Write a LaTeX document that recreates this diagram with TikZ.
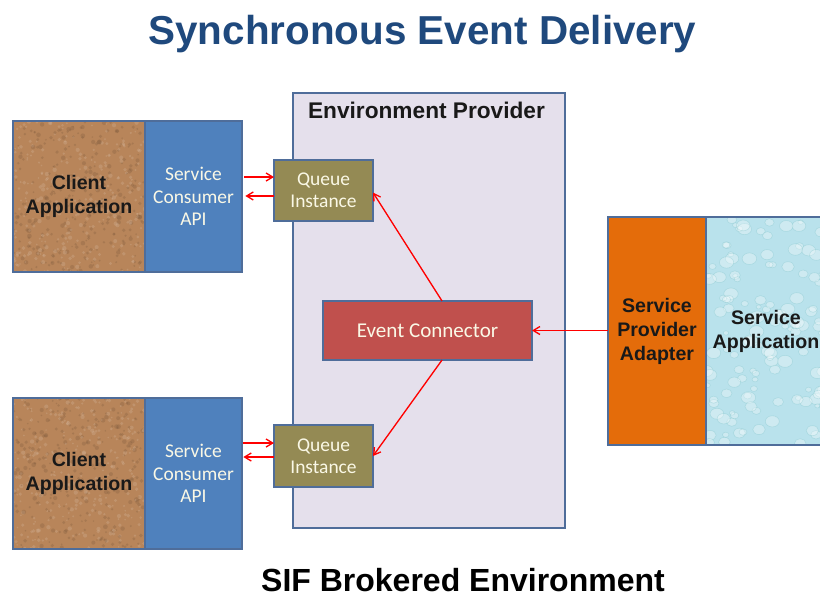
\documentclass[tikz,border=0pt]{standalone}
\usepackage{fontspec}
\setmainfont{Liberation Sans}
\newfontfamily\calib{Carlito}
\usetikzlibrary{arrows.meta,calc}
\definecolor{titleblue}{RGB}{31,73,125}
\definecolor{envfill}{RGB}{229,224,236}
\definecolor{edgeblue}{RGB}{79,109,154}
\definecolor{clientbrown}{RGB}{184,133,90}
\definecolor{apiblue}{RGB}{79,129,189}
\definecolor{queueolive}{RGB}{148,138,84}
\definecolor{ecred}{RGB}{192,80,77}
\definecolor{spaorange}{RGB}{228,108,10}
\definecolor{sappcyan}{RGB}{185,226,236}
\definecolor{lighttext}{RGB}{250,248,230}
% textures, spread over the node: #1 w, #2 h (px)
\newcommand{\corkspeck}[2]{%
  \foreach \k in {1,...,300}{%
    \fill[clientbrown!70!black, opacity=0.3] ($(path picture bounding box.center)+({#1*(rnd-0.5)},{#2*(rnd-0.5)})$) circle ({0.8+1.6*rnd});
    \fill[clientbrown!60!white, opacity=0.3] ($(path picture bounding box.center)+({#1*(rnd-0.5)},{#2*(rnd-0.5)})$) circle ({0.8+1.4*rnd});
  }}
\newcommand{\dropspeck}[2]{%
  \foreach \k in {1,...,130}{%
    \pgfmathsetmacro{\rx}{2.5+5*rnd}
    \filldraw[fill=white, fill opacity=0.3, draw=sappcyan!65!teal, draw opacity=0.35, line width=0.4pt]
      ($(path picture bounding box.center)+({#1*(rnd-0.5)},{#2*(rnd-0.5)})$) ellipse ({\rx} and {\rx*0.8});
  }}
\begin{document}
\begin{tikzpicture}[x=0.75pt,y=-0.75pt,
  box/.style={draw=edgeblue, line width=0.9pt, inner sep=0pt, outer sep=0pt, align=center},
  boldtxt/.style={font=\fontsize{14.7}{18}\selectfont\bfseries, text=black!90},
  lighttxt/.style={font=\calib\fontsize{14.6}{16.7}\selectfont, text=lighttext},
  arr/.style={red, line width=1pt, -{Straight Barb[length=5pt,width=6pt]}}]
\pgfmathsetseed{7}
\useasboundingbox (0,0) rectangle (820,597);
\begin{scope}
\clip (0,0) rectangle (820,597);
% title
\node[anchor=base, font=\fontsize{30.3}{36}\selectfont\bfseries, text=titleblue] (title) at (422.5,44) {Synchronous Event Delivery};
% environment provider
\node[box, fill=envfill, minimum width=204pt, minimum height=326.25pt] (env) at (429,310.5) {};
\node[font=\fontsize{17}{20}\selectfont\bfseries, text=black!90] (envlabel) at (426.5,110) {Environment Provider};
% clients
\node[box, boldtxt, fill=clientbrown, minimum width=99pt, minimum height=113.25pt,
      path picture={\corkspeck{132}{151}}] (clientA) at (79,196.5) {Client\\Application};
\node[box, lighttxt, fill=apiblue, minimum width=72.75pt, minimum height=113.25pt] (apiA) at (193.5,196.5) {Service\\Consumer\\API};
\node[box, boldtxt, fill=clientbrown, minimum width=99pt, minimum height=113.25pt,
      path picture={\corkspeck{132}{151}}] (clientB) at (79,473.5) {Client\\Application};
\node[box, lighttxt, fill=apiblue, minimum width=72.75pt, minimum height=113.25pt] (apiB) at (193.5,473.5) {Service\\Consumer\\API};
% queues
\node[box, lighttxt, fill=queueolive, minimum width=74.25pt, minimum height=45.75pt] (queueA) at (323.5,190.5) {Queue\\Instance};
\node[box, lighttxt, fill=queueolive, minimum width=74.25pt, minimum height=46.5pt] (queueB) at (323.5,456) {Queue\\Instance};
% event connector
\node[box, lighttxt, font=\calib\fontsize{15.8}{18}\selectfont, fill=ecred, minimum width=156.75pt, minimum height=44.25pt] (ec) at (427.5,330.5) {Event Connector};
% service side
\node[box, boldtxt, fill=spaorange, minimum width=73.5pt, minimum height=171pt] (spa) at (657,331) {Service\\Provider\\Adapter};
\node[box, boldtxt, fill=sappcyan, minimum width=90pt, minimum height=171pt,
      path picture={\dropspeck{120}{228}}] (sapp) at (766,331) {Service\\Application};
% bottom label
\node[anchor=base, font=\fontsize{24}{28}\selectfont\bfseries, text=black] (sif) at (463,591) {SIF Brokered Environment};
% connectors
\path ([yshift=10.1pt]queueA.west) coordinate (qa1)
      ([yshift=-4.1pt]queueA.west) coordinate (qa2)
      ([yshift=9.75pt]queueB.west) coordinate (qb1)
      ([yshift=-0.75pt]queueB.west) coordinate (qb2)
      ([xshift=10.9pt]ec.north) coordinate (ecn)
      ([xshift=10.9pt]ec.south) coordinate (ecs);
\draw[arr] ([xshift=1.5pt]qa1 -| apiA.east) -- (qa1);
\draw[arr] (qa2) -- ([xshift=2.5pt]qa2 -| apiA.east);
\draw[arr] ([xshift=1pt]qb1 -| apiB.east) -- (qb1);
\draw[arr] (qb2) -- ([xshift=1pt]qb2 -| apiB.east);
\draw[arr] (ecn) -- ([yshift=-1.5pt]queueA.east);
\draw[arr] (ecs) -- (queueB.east);
\draw[arr] (spa.west |- ec.east) -- (ec.east);
\end{scope}
\end{tikzpicture}
\end{document}
